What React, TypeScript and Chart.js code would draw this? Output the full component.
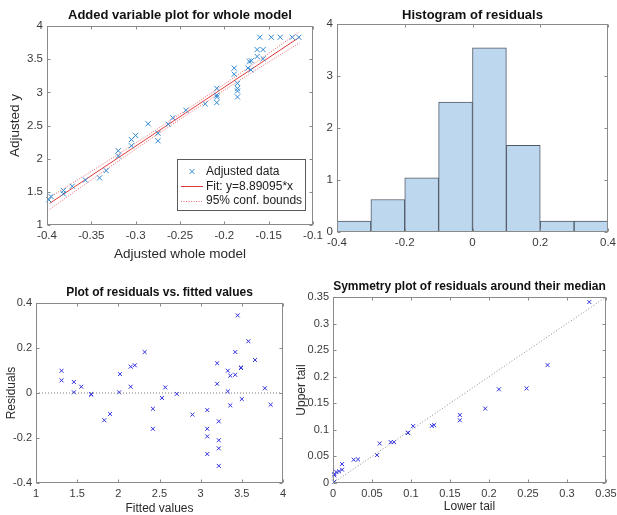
import React, { useEffect, useRef } from "react";
import { Chart, registerables } from "chart.js";

Chart.register(...registerables);

const W = 617;
const H = 515;
const FONT = "'Liberation Sans', Arial, Helvetica, sans-serif";
const TICK_COLOR = "#3a3a3a";
const BOX_COLOR = "#8a8a8a";

// ---------- Panel 1: Added variable plot ----------
const avX = [
  -0.398, -0.3955, -0.3815, -0.3815, -0.3715, -0.3567, -0.3407, -0.3333, -0.3196, -0.3196,
  -0.3048, -0.3048, -0.3, -0.2859, -0.2748, -0.2748, -0.2633, -0.2581, -0.2433, -0.2215,
  -0.2085, -0.2085, -0.2085, -0.2085, -0.1852, -0.1852, -0.1852, -0.1852, -0.1889, -0.1889,
  -0.1733, -0.172, -0.1696, -0.17, -0.163, -0.163, -0.16, -0.1563, -0.1563, -0.147,
  -0.137, -0.1233, -0.116,
];
const avY = [
  1.38, 1.43, 1.52, 1.47, 1.585, 1.677, 1.71, 1.82, 2.12, 2.04,
  2.287, 2.195, 2.35, 2.526, 2.383, 2.27, 2.52, 2.617, 2.73, 2.826,
  3.06, 2.958, 2.93, 2.846, 3.136, 3.06, 3.02, 2.93, 3.365, 3.273,
  3.365, 3.466, 3.476, 3.34, 3.644, 3.54, 3.83, 3.644, 3.507, 3.83,
  3.83, 3.83, 3.83,
];
const fitX = [-0.397, -0.115];
const fitY = [1.326, 3.833];
const confX = [-0.397, -0.35, -0.3, -0.25, -0.2, -0.15, -0.115];
const confUpper = [1.416, 1.809, 2.234, 2.673, 3.123, 3.587, 3.918];
const confLower = [1.236, 1.679, 2.144, 2.593, 3.033, 3.457, 3.748];
const legendLabels = ["Adjusted data", "Fit: y=8.89095*x", "95% conf. bounds"];

// ---------- Panel 2: Histogram ----------
const binCenters = [-0.35, -0.25, -0.15, -0.05, 0.05, 0.15, 0.25, 0.35];
const binDensity = [0.2083, 0.625, 1.0417, 2.5, 3.5417, 1.6667, 0.2083, 0.2083];

// ---------- Panel 3: Residuals vs fitted ----------
const fittedValues = [
  1.31, 1.31, 1.46, 1.46, 1.55, 1.67, 1.67, 1.83, 1.9, 2.01,
  2.02, 2.15, 2.15, 2.2, 2.32, 2.42, 2.42, 2.53, 2.57, 2.71,
  2.9, 3.08, 3.08, 3.08, 3.08, 3.22, 3.22, 3.22, 3.22, 3.2,
  3.2, 3.33, 3.33, 3.36, 3.36, 3.42, 3.42, 3.45, 3.49, 3.49,
  3.5, 3.58, 3.66, 3.78, 3.85,
];
const residuals = [
  0.099, 0.056, 0.049, 0.003, 0.028, -0.007, -0.005, -0.121, -0.093, 0.003,
  0.084, 0.117, 0.028, 0.123, 0.182, -0.07, -0.159, -0.022, 0.025, -0.004,
  -0.096, -0.076, -0.159, -0.193, -0.271, -0.126, -0.21, -0.246, -0.324, 0.132,
  0.041, 0.099, 0.007, 0.077, -0.055, 0.182, 0.081, 0.345, 0.111, 0.113,
  -0.027, 0.23, 0.147, 0.021, -0.052,
];
const zeroLineX = [1, 4];
const zeroLineY = [0, 0];

// ---------- Panel 4: Symmetry plot ----------
const lowerTail = [
  0.3286, 0.2751, 0.2482, 0.2127, 0.1951, 0.1626, 0.1626, 0.1297, 0.1267, 0.1027,
  0.0963, 0.0958, 0.0783, 0.074, 0.0599, 0.0565, 0.0321, 0.0265, 0.0116, 0.0116,
  0.0077, 0.0043, 0.0017, 0.0017, 0.0017,
];
const upperTail = [
  0.3406, 0.2219, 0.178, 0.1763, 0.14, 0.128, 0.118, 0.109, 0.1075, 0.107,
  0.0944, 0.0944, 0.0769, 0.0769, 0.0744, 0.0525, 0.0444, 0.0438, 0.0356, 0.025,
  0.0219, 0.0206, 0.0169, 0.0144, 0.0025,
];
const diagX = [0, 0.35];
const diagY = [0, 0.35];

type Area = { l: number; t: number; r: number; b: number };

const pts = (xs: number[], ys: number[]) => xs.map((x, i) => ({ x, y: ys[i] }));
const fmt = (v: number) => String(parseFloat(Number(v).toFixed(3)));

function axis(area: Area, dir: "x" | "y", min: number, max: number, step: number, size: number) {
  return {
    type: "linear",
    min,
    max,
    offset: false,
    ticks: {
      stepSize: step,
      autoSkip: false,
      maxRotation: 0,
      minRotation: 0,
      padding: 4,
      color: TICK_COLOR,
      font: { family: FONT, size },
      callback: (v: any) => fmt(Number(v)),
    },
    grid: { display: false, drawTicks: false, tickLength: 0 },
    border: { display: false },
    afterFit: (s: any) => {
      if (dir === "x") {
        s.height = H - area.b;
        s.paddingLeft = 0;
        s.paddingRight = 0;
      } else {
        s.width = area.l;
        s.paddingTop = 0;
        s.paddingBottom = 0;
      }
    },
  };
}

const framePlugin = {
  id: "frame",
  afterDatasetsDraw(chart: any, _args: any, o: any) {
    const { ctx, chartArea: a } = chart;
    const xs = chart.scales.x;
    const ys = chart.scales.y;
    ctx.save();
    ctx.strokeStyle = BOX_COLOR;
    ctx.lineWidth = 1;
    ctx.setLineDash([]);
    const L = Math.round(a.left) + 0.5;
    const R = Math.round(a.right) - 0.5;
    const T = Math.round(a.top) + 0.5;
    const B = Math.round(a.bottom) - 0.5;
    ctx.strokeRect(L, T, R - L, B - T);
    const tl = 3;
    ctx.beginPath();
    xs.ticks.forEach((t: any) => {
      const px = Math.round(xs.getPixelForValue(t.value)) + 0.5;
      ctx.moveTo(px, B);
      ctx.lineTo(px, B - tl);
      ctx.moveTo(px, T);
      ctx.lineTo(px, T + tl);
    });
    ys.ticks.forEach((t: any) => {
      const py = Math.round(ys.getPixelForValue(t.value)) + 0.5;
      ctx.moveTo(L, py);
      ctx.lineTo(L + tl, py);
      ctx.moveTo(R, py);
      ctx.lineTo(R - tl, py);
    });
    ctx.stroke();

    const cx = (a.left + a.right) / 2;
    const cy = (a.top + a.bottom) / 2;
    ctx.textAlign = "center";
    ctx.textBaseline = "middle";
    if (o.title) {
      ctx.fillStyle = "#111";
      ctx.font = `bold ${o.titleSize}px ${FONT}`;
      ctx.fillText(o.title, cx, o.titleY);
    }
    ctx.fillStyle = "#2a2a2a";
    ctx.font = `${o.labelSize}px ${FONT}`;
    if (o.xTitle) ctx.fillText(o.xTitle, cx, o.xTitleY);
    if (o.yTitle) {
      ctx.save();
      ctx.translate(o.yTitleX, cy);
      ctx.rotate(-Math.PI / 2);
      ctx.fillText(o.yTitle, 0, 0);
      ctx.restore();
    }

    if (o.legend) {
      const lg = o.legend;
      ctx.fillStyle = "#fff";
      ctx.fillRect(lg.x, lg.y, lg.w, lg.h);
      ctx.strokeStyle = "#5a5a5a";
      ctx.strokeRect(lg.x + 0.5, lg.y + 0.5, lg.w, lg.h);
      const ds = chart.data.datasets;
      ctx.font = `12px ${FONT}`;
      ctx.textAlign = "left";
      lg.rows.forEach((row: any, i: number) => {
        const y = lg.y + lg.rowStart + i * lg.rowGap;
        const d = ds[row.ds];
        if (row.kind === "marker") {
          const mx = lg.x + 15;
          const r = 2.5;
          ctx.strokeStyle = d.borderColor;
          ctx.lineWidth = 1;
          ctx.setLineDash([]);
          ctx.beginPath();
          ctx.moveTo(mx - r, y - r);
          ctx.lineTo(mx + r, y + r);
          ctx.moveTo(mx + r, y - r);
          ctx.lineTo(mx - r, y + r);
          ctx.stroke();
        } else {
          ctx.strokeStyle = d.borderColor;
          ctx.lineWidth = 1;
          ctx.setLineDash(d.borderDash || []);
          ctx.beginPath();
          ctx.moveTo(lg.x + 4, Math.round(y) + 0.5);
          ctx.lineTo(lg.x + 26, Math.round(y) + 0.5);
          ctx.stroke();
          ctx.setLineDash([]);
        }
        ctx.fillStyle = "#222";
        ctx.fillText(legendLabels[i], lg.x + 29, y + 0.5);
      });
    }
    ctx.restore();
  },
};

function layoutFor(area: Area) {
  return { padding: { left: 0, top: area.t, right: W - area.r, bottom: 0 } };
}

function config1() {
  const area: Area = { l: 47, t: 26, r: 313, b: 225 };
  return {
    type: "scatter",
    data: {
      datasets: [
        {
          label: legendLabels[0],
          data: pts(avX, avY),
          pointStyle: "crossRot",
          pointRadius: 3.6,
          borderColor: "#2f88d2",
          backgroundColor: "#2f88d2",
          borderWidth: 1,
          showLine: false,
          clip: false,
        },
        {
          label: legendLabels[1],
          data: pts(fitX, fitY),
          showLine: true,
          pointRadius: 0,
          borderColor: "#e23a3a",
          borderWidth: 1,
        },
        {
          label: legendLabels[2],
          data: pts(confX, confUpper),
          showLine: true,
          pointRadius: 0,
          borderColor: "#ee6a6a",
          borderWidth: 1,
          borderDash: [1, 1.5],
          cubicInterpolationMode: "monotone",
        },
        {
          label: "lower",
          data: pts(confX, confLower),
          showLine: true,
          pointRadius: 0,
          borderColor: "#ee6a6a",
          borderWidth: 1,
          borderDash: [1, 1.5],
          cubicInterpolationMode: "monotone",
        },
      ],
    },
    options: {
      responsive: false,
      animation: false,
      events: [],
      layout: layoutFor(area),
      scales: {
        x: axis(area, "x", -0.4, -0.1, 0.05, 11.5),
        y: axis(area, "y", 1, 4, 0.5, 11.5),
      },
      plugins: {
        legend: { display: false },
        tooltip: { enabled: false },
        frame: {
          title: "Added variable plot for whole model",
          titleSize: 13,
          titleY: 15,
          labelSize: 13.5,
          xTitle: "Adjusted whole model",
          xTitleY: 254,
          yTitle: "Adjusted y",
          yTitleX: 15,
          legend: {
            x: 177,
            y: 159,
            w: 128,
            h: 51,
            rowStart: 12.5,
            rowGap: 14.5,
            rows: [
              { kind: "marker", ds: 0 },
              { kind: "line", ds: 1 },
              { kind: "line", ds: 2 },
            ],
          },
        },
      },
    },
    plugins: [framePlugin],
  };
}

function config2() {
  const area: Area = { l: 337, t: 24, r: 608, b: 232 };
  return {
    type: "bar",
    data: {
      datasets: [
        {
          data: pts(binCenters, binDensity),
          backgroundColor: "#bdd7ef",
          borderColor: "#505a66",
          borderWidth: 1,
          borderSkipped: false,
          barPercentage: 1,
          categoryPercentage: 1,
          grouped: false,
        },
      ],
    },
    options: {
      responsive: false,
      animation: false,
      events: [],
      layout: layoutFor(area),
      scales: {
        x: axis(area, "x", -0.4, 0.4, 0.2, 11.5),
        y: axis(area, "y", 0, 4, 1, 11.5),
      },
      plugins: {
        legend: { display: false },
        tooltip: { enabled: false },
        frame: {
          title: "Histogram of residuals",
          titleSize: 13,
          titleY: 15,
          labelSize: 13.5,
        },
      },
    },
    plugins: [framePlugin],
  };
}

function config3() {
  const area: Area = { l: 36, t: 303, r: 283, b: 483 };
  return {
    type: "scatter",
    data: {
      datasets: [
        {
          data: pts(zeroLineX, zeroLineY),
          showLine: true,
          pointRadius: 0,
          borderColor: "#7a7a7a",
          borderWidth: 1,
          borderDash: [1, 2],
        },
        {
          data: pts(fittedValues, residuals),
          pointStyle: "crossRot",
          pointRadius: 2.8,
          borderColor: "#2f2fe0",
          backgroundColor: "#2f2fe0",
          borderWidth: 1,
          showLine: false,
          clip: false,
        },
      ],
    },
    options: {
      responsive: false,
      animation: false,
      events: [],
      layout: layoutFor(area),
      scales: {
        x: axis(area, "x", 1, 4, 0.5, 11),
        y: axis(area, "y", -0.4, 0.4, 0.2, 11),
      },
      plugins: {
        legend: { display: false },
        tooltip: { enabled: false },
        frame: {
          title: "Plot of residuals vs. fitted values",
          titleSize: 12,
          titleY: 293,
          labelSize: 12,
          xTitle: "Fitted values",
          xTitleY: 509,
          yTitle: "Residuals",
          yTitleX: 12,
        },
      },
    },
    plugins: [framePlugin],
  };
}

function config4() {
  const area: Area = { l: 333, t: 297, r: 606, b: 483 };
  return {
    type: "scatter",
    data: {
      datasets: [
        {
          data: pts(diagX, diagY),
          showLine: true,
          pointRadius: 0,
          borderColor: "#8a8a8a",
          borderWidth: 1,
          borderDash: [1, 2],
        },
        {
          data: pts(lowerTail, upperTail),
          pointStyle: "crossRot",
          pointRadius: 2.8,
          borderColor: "#2f2fe0",
          backgroundColor: "#2f2fe0",
          borderWidth: 1,
          showLine: false,
          clip: false,
        },
      ],
    },
    options: {
      responsive: false,
      animation: false,
      events: [],
      layout: layoutFor(area),
      scales: {
        x: axis(area, "x", 0, 0.35, 0.05, 11),
        y: axis(area, "y", 0, 0.35, 0.05, 11),
      },
      plugins: {
        legend: { display: false },
        tooltip: { enabled: false },
        frame: {
          title: "Symmetry plot of residuals around their median",
          titleSize: 12,
          titleY: 287,
          labelSize: 12,
          xTitle: "Lower tail",
          xTitleY: 507,
          yTitle: "Upper tail",
          yTitleX: 302,
        },
      },
    },
    plugins: [framePlugin],
  };
}

function Panel({ make }: { make: () => any }) {
  const ref = useRef<HTMLCanvasElement>(null);
  useEffect(() => {
    const chart = new Chart(ref.current as HTMLCanvasElement, make());
    return () => chart.destroy();
  }, [make]);
  return (
    <canvas
      ref={ref}
      width={W}
      height={H}
      style={{ position: "absolute", left: 0, top: 0, width: W, height: H }}
    />
  );
}

const makers = [config1, config2, config3, config4];

export default function App() {
  return (
    <div style={{ position: "absolute", left: 0, top: 0, width: W, height: H, background: "#fff" }}>
      {makers.map((m, i) => (
        <Panel key={i} make={m} />
      ))}
    </div>
  );
}
